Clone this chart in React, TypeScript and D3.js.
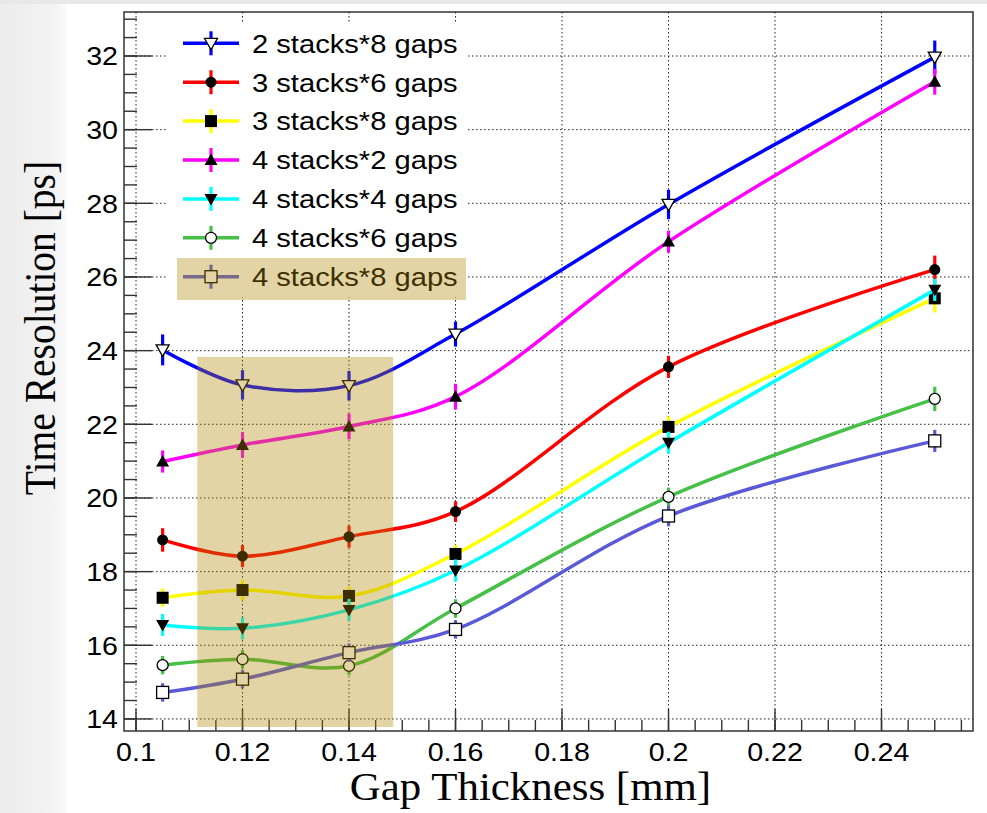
import React from "react";
import * as d3 from "d3";

const W = 987;
const H = 813;

// ---------- data ----------
const gapThickness = [0.105, 0.12, 0.14, 0.16, 0.2, 0.25];

const seriesNames = [
  "2 stacks*8 gaps",
  "3 stacks*6 gaps",
  "3 stacks*8 gaps",
  "4 stacks*2 gaps",
  "4 stacks*4 gaps",
  "4 stacks*6 gaps",
  "4 stacks*8 gaps",
];

const res2x8 = [24.02, 23.07, 23.05, 24.45, 27.97, 31.97];
const res3x6 = [18.86, 18.42, 18.95, 19.63, 23.56, 26.2];
const res3x8 = [17.29, 17.5, 17.34, 18.48, 21.93, 25.42];
const res4x2 = [20.99, 21.44, 21.94, 22.75, 26.96, 31.3];
const res4x4 = [16.55, 16.46, 16.96, 18.03, 21.5, 25.65];
const res4x6 = [15.46, 15.62, 15.44, 17.0, 20.03, 22.69];
const res4x8 = [14.72, 15.08, 15.8, 16.43, 19.51, 21.55];

const err2x8 = [0.42, 0.4, 0.4, 0.34, 0.4, 0.45];
const err3x6 = [0.32, 0.3, 0.3, 0.28, 0.3, 0.38];
const err3x8 = [0.25, 0.28, 0.25, 0.25, 0.28, 0.38];
const err4x2 = [0.3, 0.35, 0.35, 0.35, 0.3, 0.35];
const err4x4 = [0.3, 0.3, 0.3, 0.3, 0.3, 0.3];
const err4x6 = [0.25, 0.25, 0.25, 0.25, 0.25, 0.33];
const err4x8 = [0.25, 0.25, 0.25, 0.25, 0.28, 0.3];

const seriesValues = [res2x8, res3x6, res3x8, res4x2, res4x4, res4x6, res4x8];
const seriesErrors = [err2x8, err3x6, err3x8, err4x2, err4x4, err4x6, err4x8];
const seriesColors = ["#0000ff", "#ff0000", "#ffff00", "#ff00ff", "#00ffff", "#46c046", "#5a5ad8"];
const seriesMarkers = ["openTriDown", "circle", "square", "triUp", "triDown", "openCircle", "openSquare"];

const xTickValues = [0.1, 0.12, 0.14, 0.16, 0.18, 0.2, 0.22, 0.24];
const xTickLabels = ["0.1", "0.12", "0.14", "0.16", "0.18", "0.2", "0.22", "0.24"];
const yTickValues = [14, 16, 18, 20, 22, 24, 26, 28, 30, 32];
const yTickLabels = ["14", "16", "18", "20", "22", "24", "26", "28", "30", "32"];

// highlighted region (data coords)
const highlightX = [0.1115, 0.1483];
const highlightY = [13.78, 23.83];

const xDomain = [0.097746, 0.25718];
const yDomain = [13.6725, 33.1947];

// ---------- layout ----------
const plotLeft = 124;
const plotRight = 973;
const plotTop = 12;
const plotBottom = 731;

const sans = "'Liberation Sans', Arial, Helvetica, sans-serif";
const serif = "'Liberation Serif', 'Times New Roman', serif";
const SX = 1.1;

const tan = "rgb(174,131,0)";
const tanOpacity = 0.35;

function Marker({ type, x, y }: { type: string; x: number; y: number }) {
  const r = 6.5;
  switch (type) {
    case "circle":
      return <circle cx={x} cy={y} r={5.5} fill="#000" />;
    case "openCircle":
      return <circle cx={x} cy={y} r={5.5} fill="#fff" stroke="#000" strokeWidth={1.3} />;
    case "square":
      return <rect x={x - 6} y={y - 6} width={12} height={12} fill="#000" />;
    case "openSquare":
      return <rect x={x - 6} y={y - 6} width={12} height={12} fill="#fff" stroke="#000" strokeWidth={1.3} />;
    case "triUp":
      return <path d={`M${x},${y - r}L${x + r},${y + 5}L${x - r},${y + 5}Z`} fill="#000" />;
    case "triDown":
      return <path d={`M${x},${y + r}L${x + r},${y - 5}L${x - r},${y - 5}Z`} fill="#000" />;
    case "openTriDown":
      return (
        <path d={`M${x},${y + r}L${x + r},${y - 5}L${x - r},${y - 5}Z`} fill="#fff" stroke="#000" strokeWidth={1.3} />
      );
    default:
      return null;
  }
}

export default function App() {
  const x = d3.scaleLinear().domain(xDomain).range([plotLeft, plotRight]);
  const y = d3.scaleLinear().domain(yDomain).range([plotBottom, plotTop]);

  const line = d3
    .line<[number, number]>()
    .x((d) => d[0])
    .y((d) => d[1])
    .curve(d3.curveCatmullRom.alpha(0.5));

  const xMinor = d3.range(0.1, 0.2571, 0.005).filter((v) => v >= xDomain[0] && v <= xDomain[1]);
  const yMinor = d3.range(13.5, 33.2, 0.5).filter((v) => v >= yDomain[0] && v <= yDomain[1]);

  const legendX0 = 183;
  const legendX1 = 239;
  const legendMx = 211;
  const legendY0 = 43.3;
  const legendDy = 38.9;

  const dot = "1.5,2.5";

  return (
    <svg
      width={W}
      height={H}
      viewBox={`0 0 ${W} ${H}`}
      style={{ position: "absolute", left: 0, top: 0, background: "#fff" }}
    >
      <defs>
        <linearGradient id="leftBand" x1="0" x2="1" y1="0" y2="0">
          <stop offset="0" stopColor="#ececec" />
          <stop offset="0.8" stopColor="#f3f3f3" />
          <stop offset="1" stopColor="#fbfbfb" />
        </linearGradient>
        <clipPath id="plotClip">
          <rect x={plotLeft} y={plotTop} width={plotRight - plotLeft} height={plotBottom - plotTop} />
        </clipPath>
      </defs>
      <rect x={0} y={0} width={W} height={H} fill="#fff" />
      <rect x={0} y={0} width={67} height={H} fill="url(#leftBand)" />
      <rect x={0} y={0} width={W} height={4} fill="#e8e8e8" />

      {/* grid */}
      <g stroke="#000" strokeWidth={1} strokeDasharray={dot} opacity={0.85}>
        {xTickValues.map((v) => (
          <line key={"gx" + v} x1={x(v)} x2={x(v)} y1={plotTop} y2={plotBottom} />
        ))}
        {yTickValues.map((v) => (
          <line key={"gy" + v} x1={plotLeft} x2={plotRight} y1={y(v)} y2={y(v)} />
        ))}
      </g>

      {/* ticks */}
      <g stroke="#333" strokeWidth={1.4}>
        {xTickValues.map((v) => (
          <line key={"tx" + v} x1={x(v)} x2={x(v)} y1={plotBottom} y2={plotBottom - 22} />
        ))}
        {xMinor.map((v, i) => (
          <line key={"mx" + i} x1={x(v)} x2={x(v)} y1={plotBottom} y2={plotBottom - 11} />
        ))}
        {yTickValues.map((v) => (
          <line key={"ty" + v} x1={plotLeft} x2={plotLeft + 28} y1={y(v)} y2={y(v)} />
        ))}
        {yMinor.map((v, i) => (
          <line key={"my" + i} x1={plotLeft} x2={plotLeft + 13} y1={y(v)} y2={y(v)} />
        ))}
      </g>

      {/* series */}
      <g clipPath="url(#plotClip)">
        {seriesValues.map((vals, si) => {
          const pts: [number, number][] = vals.map((v, i) => [x(gapThickness[i]), y(v)]);
          return (
            <g key={"s" + si}>
              <path d={line(pts) || ""} fill="none" stroke={seriesColors[si]} strokeWidth={3.5} />
              {vals.map((v, i) => (
                <line
                  key={"e" + i}
                  x1={x(gapThickness[i])}
                  x2={x(gapThickness[i])}
                  y1={y(v - seriesErrors[si][i])}
                  y2={y(v + seriesErrors[si][i])}
                  stroke={seriesColors[si]}
                  strokeWidth={3.2}
                />
              ))}
              {vals.map((v, i) => (
                <Marker key={"m" + i} type={seriesMarkers[si]} x={x(gapThickness[i])} y={y(v)} />
              ))}
            </g>
          );
        })}
      </g>

      {/* legend */}
      <rect x={168} y={24} width={300} height={273} fill="#fff" />
      {seriesNames.map((name, si) => {
        const cy = legendY0 + si * legendDy;
        return (
          <g key={"l" + si}>
            <line x1={legendX0} x2={legendX1} y1={cy} y2={cy} stroke={seriesColors[si]} strokeWidth={3.5} />
            <line x1={legendMx} x2={legendMx} y1={cy - 12} y2={cy + 12} stroke={seriesColors[si]} strokeWidth={3.2} />
            <Marker type={seriesMarkers[si]} x={legendMx} y={cy} />
            <text
              transform={`translate(252,${cy + 9.3}) scale(${SX},1)`}
              fontFamily={sans}
              fontSize={26.5}
              fill="#000"
            >
              {name}
            </text>
          </g>
        );
      })}

      {/* frame */}
      <rect
        x={plotLeft}
        y={plotTop}
        width={plotRight - plotLeft}
        height={plotBottom - plotTop}
        fill="none"
        stroke="#333"
        strokeWidth={1.5}
      />

      {/* tick labels */}
      {xTickValues.map((v, i) => (
        <text
          key={"xl" + i}
          transform={`translate(${x(v)},761) scale(${SX},1)`}
          textAnchor="middle"
          fontFamily={sans}
          fontSize={26}
          fill="#000"
        >
          {xTickLabels[i]}
        </text>
      ))}
      {yTickValues.map((v, i) => (
        <text
          key={"yl" + i}
          transform={`translate(118,${y(v) + 9.3}) scale(${SX},1)`}
          textAnchor="end"
          fontFamily={sans}
          fontSize={26}
          fill="#000"
        >
          {yTickLabels[i]}
        </text>
      ))}

      {/* axis titles */}
      <text
        transform={`translate(530.5,800) scale(${SX},1)`}
        textAnchor="middle"
        fontFamily={serif}
        fontSize={39}
        fill="#000"
      >
        Gap Thickness [mm]
      </text>
      <text
        transform={`translate(55,328) scale(${SX},1) rotate(-90)`}
        textAnchor="middle"
        fontFamily={serif}
        fontSize={39.5}
        fill="#000"
      >
        Time Resolution [ps]
      </text>

      {/* highlight overlays */}
      <rect
        x={x(highlightX[0])}
        y={y(highlightY[1])}
        width={x(highlightX[1]) - x(highlightX[0])}
        height={y(highlightY[0]) - y(highlightY[1])}
        fill={tan}
        opacity={tanOpacity}
      />
      <rect x={177} y={258} width={289} height={42} fill={tan} opacity={tanOpacity} />
    </svg>
  );
}
